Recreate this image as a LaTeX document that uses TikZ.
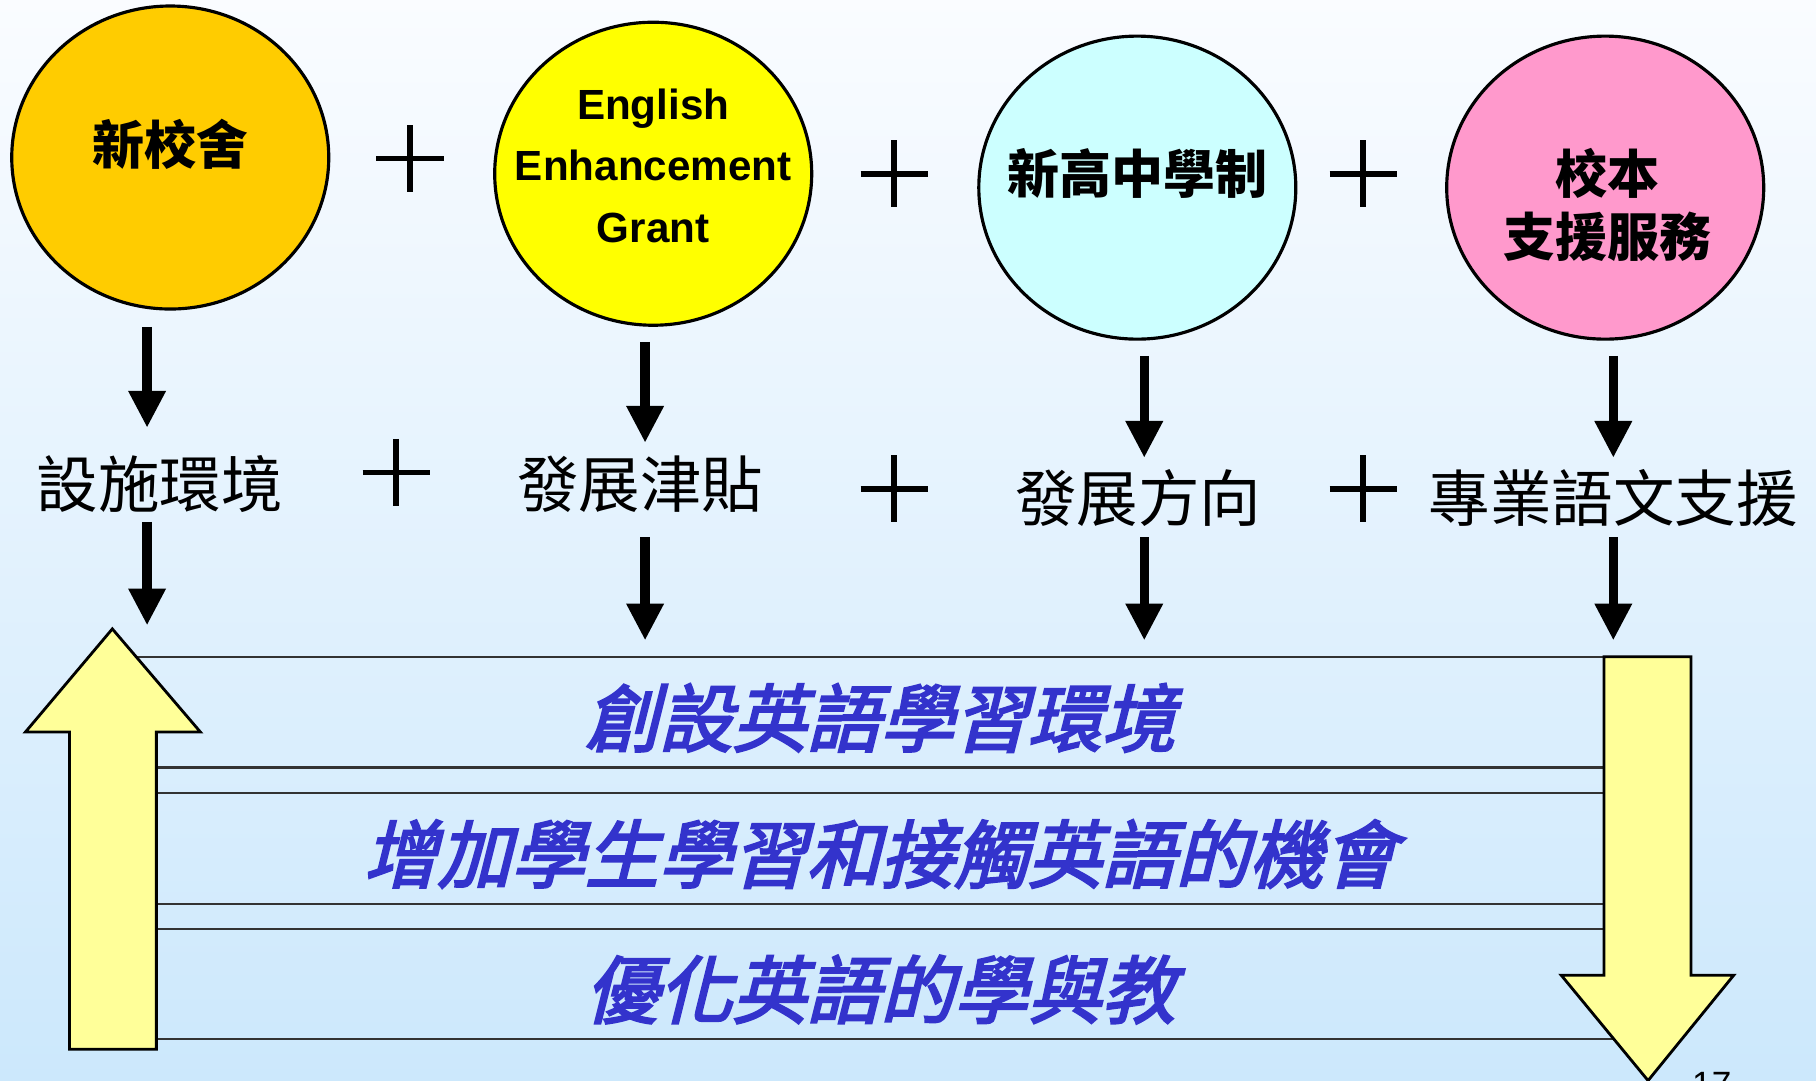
\documentclass[tikz,border=0pt]{standalone}
\usepackage{fontspec}
\setmainfont{Liberation Sans}
\newfontfamily\cjk{Noto Sans CJK TC}
\newfontfamily\cjkslant{Noto Sans CJK TC}[FakeSlant=0.25,FakeBold=3]
\usetikzlibrary{shapes.geometric}
\usetikzlibrary{arrows.meta}
\definecolor{ColSky}{RGB}{204,232,252}
\definecolor{ColTop}{RGB}{250,252,255}
\definecolor{ColOrange}{RGB}{255,204,0}
\definecolor{ColYellow}{RGB}{255,255,0}
\definecolor{ColCyan}{RGB}{204,255,255}
\definecolor{ColPink}{RGB}{255,153,204}
\definecolor{ColPale}{RGB}{255,255,153}
\definecolor{ColInk}{RGB}{51,51,204}
\tikzstyle{Bubble}=[ellipse,draw=black,line width=.9pt,minimum width=3.17cm,minimum height=3.03cm,inner sep=0pt]
\tikzstyle{BubbleText}=[font=\cjk\bfseries\fontsize{14.8}{18}\selectfont,inner sep=0pt,align=center]
\tikzstyle{GrantText}=[font=\bfseries\fontsize{12}{17.5}\selectfont,align=center,inner sep=0pt]
\tikzstyle{StepText}=[font=\cjk\fontsize{17.5}{20}\selectfont,inner sep=0pt,text height=15.4pt,text depth=2.1pt]
\tikzstyle{PlusSign}=[line width=1.6pt]
\tikzstyle{DownArrow}=[line width=2.7pt,-{Triangle[length=10.5pt,width=10pt]}]
\tikzstyle{Band}=[draw=black!80,line width=.6pt,minimum width=15.29cm,minimum height=1.105cm,
font=\cjkslant\fontsize{21}{24}\selectfont,text=ColInk,text height=20pt,text depth=.8pt]
\tikzstyle{BigArrow}=[draw=black,line width=.8pt,fill=ColPale]

\begin{document}
\begin{tikzpicture}[x=0.01158cm,y=-0.01158cm]
    \path[use as bounding box,clip](0,0)rectangle(1568,933);
    \shade[top color=ColTop,bottom color=ColSky](0,0)rectangle(1568,933);
    % bands
    \node[Band](r1)at(760,615){創設英語學習環境};
    \node[Band](r2)at(760,732.5){增加學生學習和接觸英語的機會};
    \node[Band](r3)at(760,849.5){優化英語的學與教};
    % big arrows
    \draw[BigArrow](60,906)--(60,632)--(22,632)--(97,543)--(173,632)--(135,632)--(135,906)--cycle;
    \draw[BigArrow](1385,567)--(1460,567)--(1460,842)--(1497,842)--(1423,933)--(1348,842)--(1385,842)--cycle;
    % bubbles
    \node[Bubble,fill=ColOrange](c1)at(147,136){};
    \node[Bubble,fill=ColYellow](c2)at(564,150){};
    \node[Bubble,fill=ColCyan](c3)at(982,162){};
    \node[Bubble,fill=ColPink](c4)at(1386,162){};
    \node[BubbleText](b1)at(147,125){新校舍};
    \node[GrantText](b2)at(564,143){English\\Enhancement\\Grant};
    \node[BubbleText](b3)at(982,150){新高中學制};
    \node[BubbleText](b4)at(1388,177){校本\\支援服務};
    % second row
    \node[StepText](t1)at(138,418){設施環境};
    \node[StepText](t2)at(553,418){發展津貼};
    \node[StepText](t3)at(983,430){發展方向};
    \node[StepText](t4)at(1393,430){專業語文支援};
    \foreach \px/\py in {354/137,772/150,1177/150,342/408,772/422,1177/422}
        \draw[PlusSign](\px-29,\py)--(\px+29,\py)(\px,\py-29)--(\px,\py+29);
    % arrows
    \coordinate(k1)at(127,567);
    \coordinate(k2)at(557,567);
    \coordinate(k3)at(988,567);
    \coordinate(k4)at(1393,567);
    \foreach \i/\sa/\sb/\sc/\sd in {1/14/21.5/5.5/27,2/13/8.5/18.5/14,3/13/7.5/6.5/14,4/13/7.5/6.5/14}{
        \draw[DownArrow,shorten <=\sa*0.01158cm,shorten >=\sb*0.01158cm](c\i.south-|k\i)--(t\i.north-|k\i);
        \draw[DownArrow,shorten <=\sc*0.01158cm,shorten >=\sd*0.01158cm](t\i.south-|k\i)--(k\i);
    }
    \node[font=\fontsize{10}{12}\selectfont,anchor=north,inner sep=0pt](pg)at(1478,925){17};
\end{tikzpicture}
\end{document}
